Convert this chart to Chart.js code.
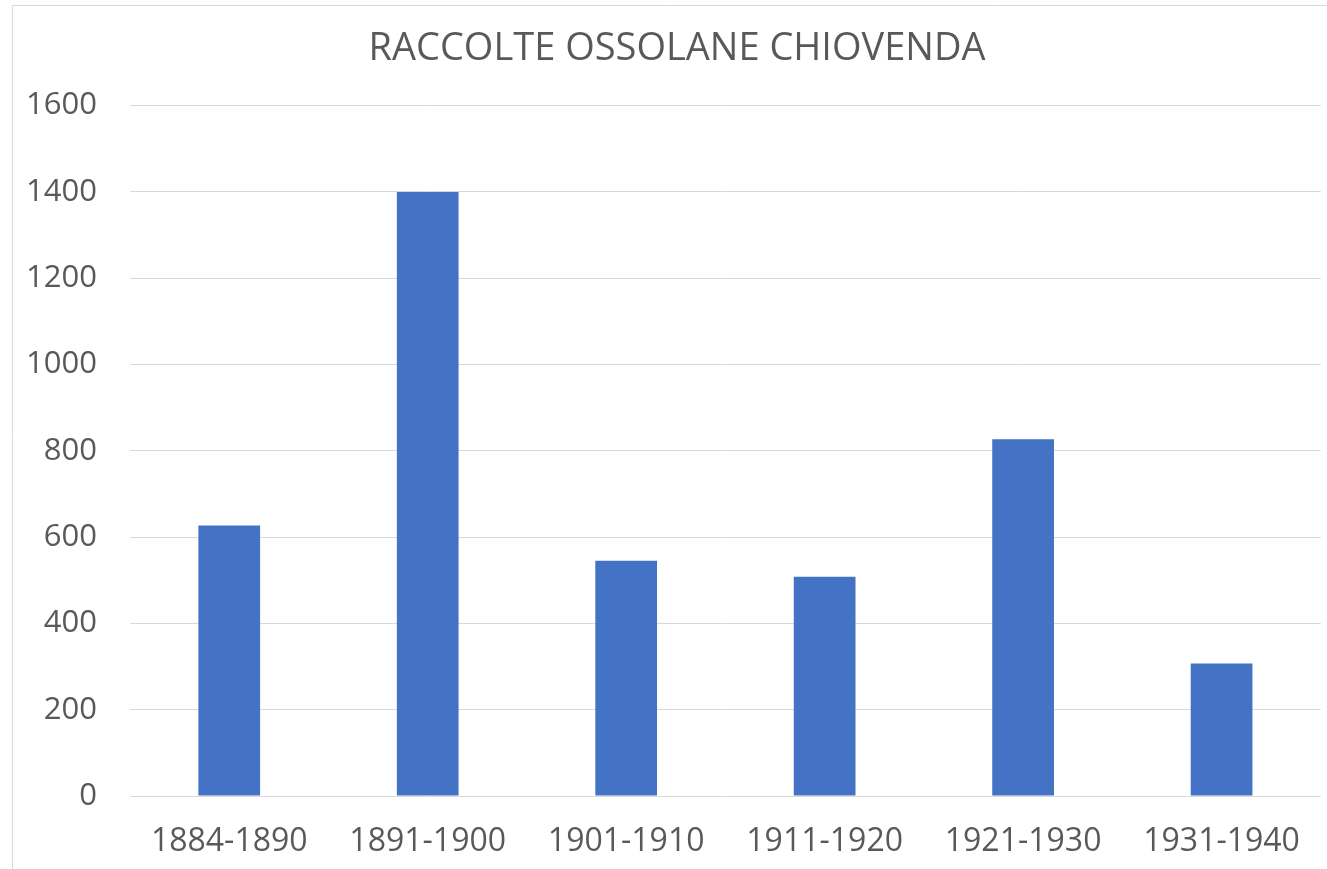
<!DOCTYPE html>
<html>
<head>
<meta charset="utf-8">
<script src="https://cdn.jsdelivr.net/npm/chart.js@4/dist/chart.umd.min.js"></script>
<style>
html,body{margin:0;padding:0;background:#fff;}
#wrap{position:relative;width:1327px;height:869px;}
</style>
</head>
<body>
<div id="wrap"><canvas id="c" width="1327" height="869"></canvas></div>
<script>
const categories = ["1884-1890","1891-1900","1901-1910","1911-1920","1921-1930","1931-1940"];
const raccolte = [627, 1400, 545, 508, 827, 307];
const yTicks = [0, 200, 400, 600, 800, 1000, 1200, 1400, 1600];
const titleText = "RACCOLTE OSSOLANE CHIOVENDA";

const framePlugin = {
  id: 'frame',
  beforeDraw(chart) {
    const ctx = chart.ctx;
    ctx.save();
    ctx.fillStyle = '#fff';
    ctx.fillRect(0, 0, chart.width, chart.height);
    ctx.strokeStyle = '#d9d9d9';
    ctx.lineWidth = 1;
    ctx.beginPath();
    ctx.moveTo(12.5, 869);
    ctx.lineTo(12.5, 5.5);
    ctx.lineTo(1327, 5.5);
    ctx.stroke();
    ctx.restore();
  }
};

new Chart(document.getElementById('c'), {
  type: 'bar',
  data: {
    labels: categories,
    datasets: [{
      data: raccolte,
      backgroundColor: '#4472c4',
      barPercentage: 0.311,
      categoryPercentage: 1
    }]
  },
  options: {
    responsive: false,
    animation: false,
    layout: { padding: { top: 26, right: 1, bottom: 0, left: 28 } },
    plugins: {
      legend: { display: false },
      tooltip: { enabled: false },
      title: {
        display: true,
        text: titleText,
        color: '#595959',
        font: { family: 'Open Sans', size: 38, weight: 'normal' },
        padding: { top: 0, bottom: 34 }
      }
    },
    scales: {
      x: {
        afterFit(scale) { scale.height = 73; },
        grid: { display: false, drawTicks: false },
        border: { display: false },
        ticks: {
          color: '#595959',
          font: { family: 'Open Sans', size: 32 },
          padding: 27,
          maxRotation: 0
        }
      },
      y: {
        min: 0,
        max: 1600,
        afterFit(scale) { scale.width = 102; },
        afterBuildTicks(scale) { scale.ticks = yTicks.map(v => ({ value: v })); },
        grid: { color: '#d9d9d9', lineWidth: 1, drawTicks: false },
        border: { display: false },
        ticks: {
          color: '#595959',
          font: { family: 'Open Sans', size: 31 },
          padding: 33,
          callback: (v) => String(v)
        }
      }
    }
  },
  plugins: [framePlugin]
});
</script>
</body>
</html>
